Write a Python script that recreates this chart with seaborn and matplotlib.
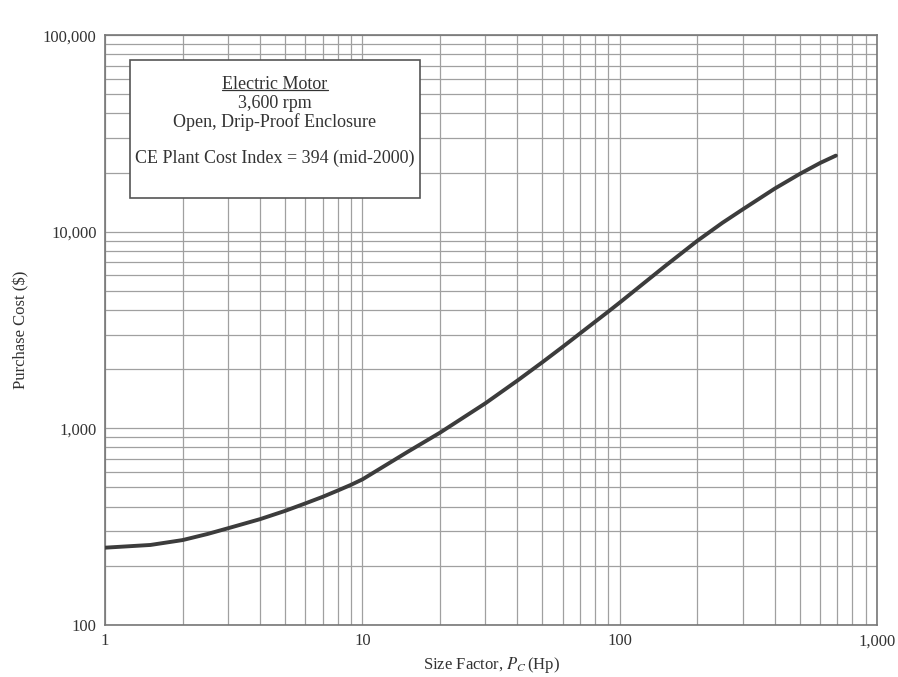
import matplotlib
matplotlib.use("Agg")
import matplotlib.pyplot as plt
from matplotlib.ticker import LogLocator, FuncFormatter, NullFormatter
from matplotlib.patches import Rectangle
import seaborn as sns
import pandas as pd

# size factor (Hp) and purchase cost ($)
size_hp = [1, 1.5, 2, 2.5, 3, 4, 5, 6, 7, 8, 9, 10, 15, 20, 30, 40, 50, 60,
           70, 80, 90, 100, 150, 200, 250, 300, 400, 500, 600, 690]
cost = [247, 255, 270, 290, 310, 345, 380, 415, 448, 482, 515, 550, 760, 950,
        1340, 1750, 2170, 2600, 3040, 3480, 3920, 4370, 6700, 9000, 11100,
        13000, 16600, 19700, 22400, 24400]

box_lines = ["3,600 rpm", "Open, Drip-Proof Enclosure"]
box_title = "Electric Motor"
box_index = "CE Plant Cost Index = 394 (mid-2000)"

sns.set_style("white")
plt.rcParams['font.family'] = ['Liberation Serif', 'DejaVu Serif']
plt.rcParams['mathtext.fontset'] = 'stix'

df = pd.DataFrame({'size': size_hp, 'cost': cost})

fig = plt.figure(figsize=(8.98, 6.77), dpi=100)
ax = fig.add_axes([0.117, 0.077, 0.860, 0.871])

sns.lineplot(data=df, x='size', y='cost', ax=ax, color='#3c3c3c',
             linewidth=2.8, zorder=3, solid_joinstyle='round',
             solid_capstyle='round')
ax.set_xscale('log')
ax.set_yscale('log')
ax.set_xlim(1, 1000)
ax.set_ylim(100, 100000)

for axis in (ax.xaxis, ax.yaxis):
    axis.set_major_locator(LogLocator(base=10))
    axis.set_minor_locator(LogLocator(base=10, subs=range(2, 10)))
    axis.set_major_formatter(FuncFormatter(lambda v, p: f"{int(round(v)):,}"))
    axis.set_minor_formatter(NullFormatter())

ax.grid(True, which='both', color='#a0a0a0', linewidth=0.9)
ax.tick_params(which='both', length=0, labelsize=12, colors='#333333', pad=6)
for s in ax.spines.values():
    s.set_color('#777777')
    s.set_linewidth(1.2)

ax.set_xlabel(r'Size Factor, $P_C\,$(Hp)', fontsize=12, color='#333333', labelpad=4)
ax.set_ylabel('Purchase Cost ($)', fontsize=12, color='#333333', labelpad=10)

# annotation box
ax.add_patch(Rectangle((0.032, 0.724), 0.376, 0.234, transform=ax.transAxes,
                       facecolor='white', edgecolor='#555555', linewidth=1.2,
                       zorder=4))
cx = 0.220
title = ax.text(cx, 0.917, box_title, transform=ax.transAxes,
                ha='center', va='center', fontsize=13, color='#333333', zorder=5)
ax.text(cx, 0.885, box_lines[0], transform=ax.transAxes, ha='center', va='center',
        fontsize=13, color='#333333', zorder=5)
ax.text(cx, 0.852, box_lines[1], transform=ax.transAxes, ha='center', va='center',
        fontsize=13, color='#333333', zorder=5)
ax.text(cx, 0.792, box_index, transform=ax.transAxes, ha='center', va='center',
        fontsize=13, color='#333333', zorder=5)

# underline the box title
fig.canvas.draw()
bb = title.get_window_extent().transformed(ax.transAxes.inverted())
ax.plot([bb.x0, bb.x1], [bb.y0 + 0.004, bb.y0 + 0.004], transform=ax.transAxes,
        color='#333333', linewidth=0.9, zorder=5)

fig.savefig('out.png', dpi=100)
